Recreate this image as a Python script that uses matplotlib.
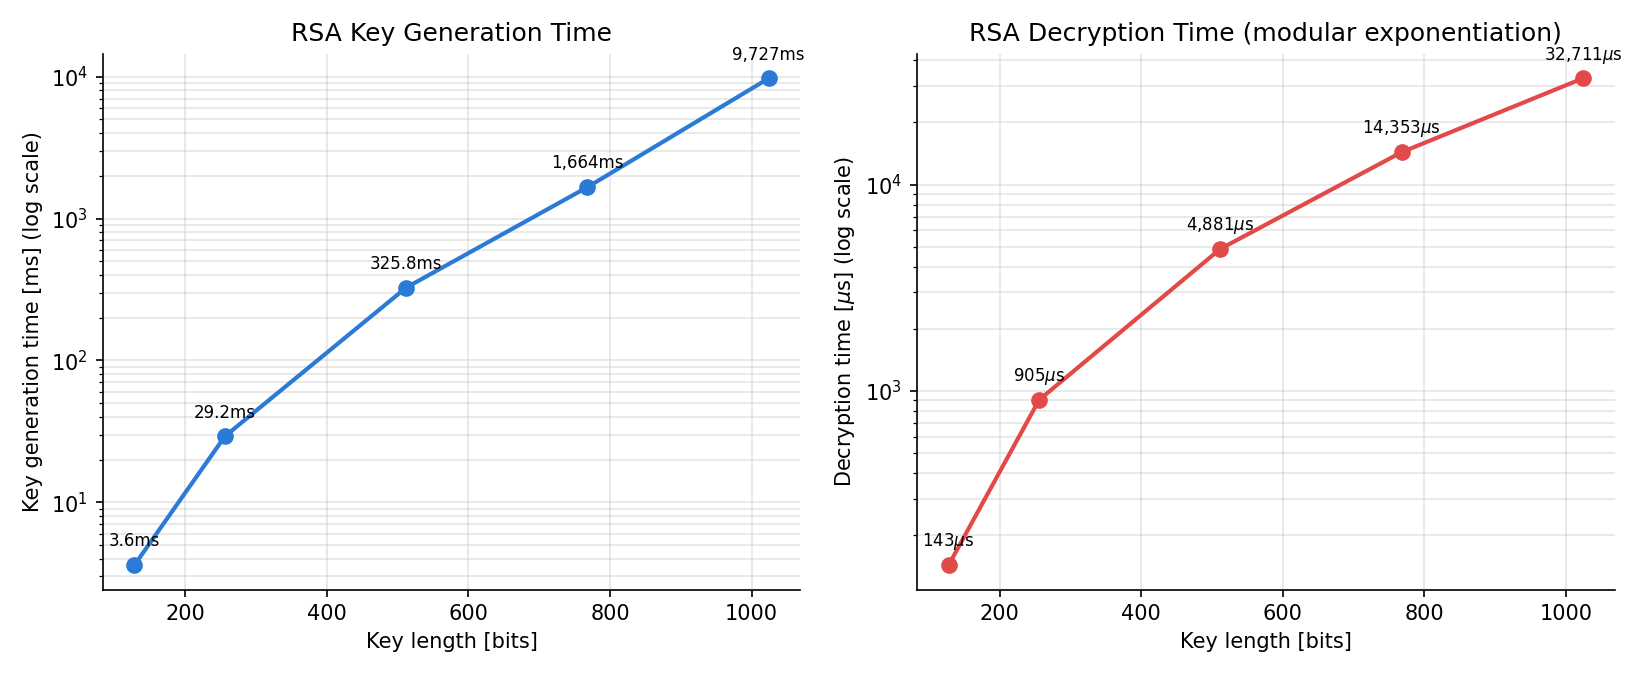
import matplotlib
matplotlib.use("Agg")
import matplotlib.pyplot as plt

key_bits = [128, 256, 512, 768, 1024]
keygen_ms = [3.6, 29.2, 325.8, 1664, 9727]
keygen_labels = ["3.6ms", "29.2ms", "325.8ms", "1,664ms", "9,727ms"]
decrypt_us = [143, 905, 4881, 14353, 32711]
decrypt_labels = [r"143$\mu$s", r"905$\mu$s", r"4,881$\mu$s", r"14,353$\mu$s", r"32,711$\mu$s"]


def panel(ax, x, y, labels, color, title, ylabel):
    ax.plot(x, y, marker='o', color=color, linewidth=2, markersize=7)
    ax.set_yscale('log')
    ax.set_title(title, fontsize=12)
    ax.set_xlabel('Key length [bits]', fontsize=10)
    ax.set_ylabel(ylabel, fontsize=10)
    ax.grid(True, which='both', color='#cccccc', alpha=0.5, linewidth=0.8)
    for xi, yi, lab in zip(x, y, labels):
        ax.annotate(lab, (xi, yi), textcoords='offset points', xytext=(0, 9),
                    ha='center', fontsize=8)
    ax.spines['top'].set_visible(False)
    ax.spines['right'].set_visible(False)
    ax.set_xticks([200, 400, 600, 800, 1000])


fig, (ax1, ax2) = plt.subplots(1, 2, figsize=(11, 4.5), dpi=150)
panel(ax1, key_bits, keygen_ms, keygen_labels, '#2b7bd6',
      'RSA Key Generation Time', 'Key generation time [ms] (log scale)')
panel(ax2, key_bits, decrypt_us, decrypt_labels, '#e24a4a',
      'RSA Decryption Time (modular exponentiation)',
      r'Decryption time [$\mu$s] (log scale)')

plt.tight_layout()
plt.savefig('out.png')
